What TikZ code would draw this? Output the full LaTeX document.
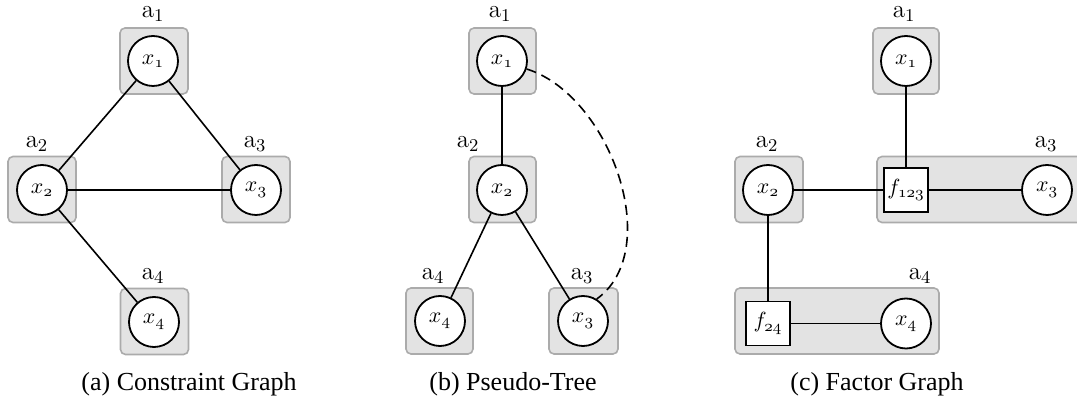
\documentclass[tikz,border=0pt]{standalone}
\usepackage{fontspec}
\newfontfamily\capfont{Liberation Serif}
\newcommand{\osd}[1]{\mathnormal{#1}}
\tikzset{
  agentbox/.style={draw=black!33, fill=black!11, rounded corners=2.5pt, line width=0.8pt, inner sep=0pt},
  var/.style={circle, draw, line width=0.9pt, fill=white, minimum size=25pt, inner sep=0pt, font=\fontsize{11}{13}\selectfont},
  fac/.style={rectangle, draw, line width=0.9pt, fill=white, minimum width=22pt, minimum height=22pt, inner sep=0pt, font=\fontsize{11}{13}\selectfont},
  lab/.style={inner sep=0pt, font=\fontsize{12.5}{14}\selectfont},
  captext/.style={inner sep=0pt, font=\capfont\fontsize{13}{15}\selectfont},
  edge/.style={line width=0.8pt},
}
\begin{document}
\begin{tikzpicture}[x=0.5pt, y=-0.5pt]
\useasboundingbox (0,0) rectangle (1077,400);

% ---------- (a) ----------
\node[agentbox, minimum width=34pt, minimum height=33pt] (Aa1) at (154,61) {};
\node[agentbox, minimum width=34pt, minimum height=33pt] (Aa2) at (42,189.5) {};
\node[agentbox, minimum width=34pt, minimum height=33pt] (Aa3) at (256,189.5) {};
\node[agentbox, minimum width=34pt, minimum height=33pt] (Aa4) at (154.5,321.5) {};
\node[var] (xa1) at (153,61) {$x_{\osd{1}}$};
\node[var] (xa2) at (42,190) {$x_{\osd{2}}$};
\node[var] (xa3) at (256,190) {$x_{\osd{3}}$};
\node[var] (xa4) at (154,322) {$x_{\osd{4}}$};
\node[lab] (La1) at (153,14) {$\mathrm{a}_1$};
\node[lab] (La2) at (37,144) {$\mathrm{a}_2$};
\node[lab] (La3) at (255,144) {$\mathrm{a}_3$};
\node[lab] (La4) at (153,276) {$\mathrm{a}_4$};
\draw[edge] (xa1) -- (xa2);
\draw[edge] (xa1) -- (xa3);
\draw[edge] (xa2) -- (xa3);
\draw[edge] (xa2) -- (xa4);
\node[captext] (Ca) at (189,384) {(a) Constraint Graph};

% ---------- (b) ----------
\node[agentbox, minimum width=33.5pt, minimum height=33pt] (Ab1) at (502.5,61) {};
\node[agentbox, minimum width=33.5pt, minimum height=33pt] (Ab2) at (502.5,189.5) {};
\node[agentbox, minimum width=33.5pt, minimum height=33pt] (Ab4) at (439.5,321) {};
\node[agentbox, minimum width=34.5pt, minimum height=33pt] (Ab3) at (583.5,321) {};
\node[var] (xb1) at (502,61) {$x_{\osd{1}}$};
\node[var] (xb2) at (502,190) {$x_{\osd{2}}$};
\node[var] (xb4) at (440,321) {$x_{\osd{4}}$};
\node[var] (xb3) at (583,321) {$x_{\osd{3}}$};
\node[lab] (Lb1) at (500,14) {$\mathrm{a}_1$};
\node[lab] (Lb2) at (468,144) {$\mathrm{a}_2$};
\node[lab] (Lb4) at (433,276) {$\mathrm{a}_4$};
\node[lab] (Lb3) at (582,276) {$\mathrm{a}_3$};
\draw[edge] (xb1) -- (xb2);
\draw[edge] (xb2) -- (xb4);
\draw[edge] (xb2) -- (xb3);
\draw[edge, dashed, dash pattern=on 5pt off 3pt] (xb1.-18) .. controls (610,95) and (665,250) .. (xb3.58);
\node[captext] (Cb) at (513,384) {(b) Pseudo-Tree};

% ---------- (c) ----------
\node[agentbox, minimum width=33pt, minimum height=33pt] (Ac1) at (906,61) {};
\node[agentbox, minimum width=34pt, minimum height=33pt] (Ac2) at (769,189.5) {};
\node[agentbox, minimum width=103pt, minimum height=33pt] (Ac3) at (980,189.5) {};
\node[agentbox, minimum width=102pt, minimum height=33pt] (Ac4) at (837,321) {};
\node[var] (xc1) at (906,61) {$x_{\osd{1}}$};
\node[var] (xc2) at (768,190) {$x_{\osd{2}}$};
\node[fac] (f123) at (906,190) {$f_{\osd{123}}$};
\node[var] (xc3) at (1047,190) {$x_{\osd{3}}$};
\node[fac] (f24) at (768,323.5) {$f_{\osd{24}}$};
\node[var] (xc4) at (906,323.5) {$x_{\osd{4}}$};
\node[lab] (Lc1) at (904,14) {$\mathrm{a}_1$};
\node[lab] (Lc2) at (767,144) {$\mathrm{a}_2$};
\node[lab] (Lc3) at (1046,144) {$\mathrm{a}_3$};
\node[lab] (Lc4) at (920,276) {$\mathrm{a}_4$};
\draw[edge] (xc1) -- (f123);
\draw[edge] (xc2) -- (f123);
\draw[edge] (f123) -- (xc3);
\draw[edge] (xc2) -- (f24);
\draw[edge] (f24) -- (xc4);
\node[captext] (Cc) at (877,384) {(c) Factor Graph};
\end{tikzpicture}
\end{document}
